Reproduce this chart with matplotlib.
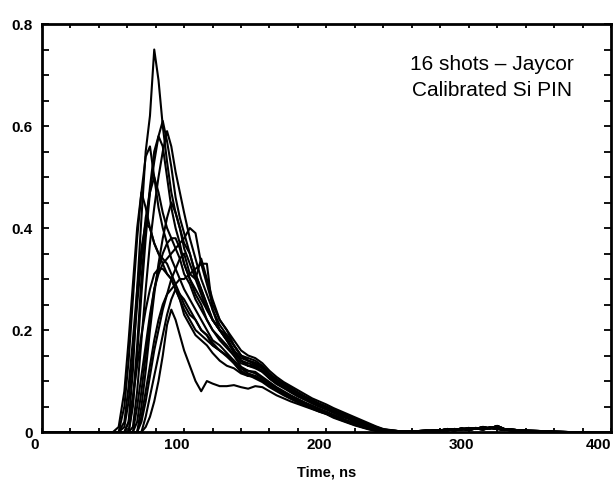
import matplotlib
matplotlib.use("Agg")
import matplotlib.pyplot as plt
from matplotlib.ticker import MultipleLocator
from matplotlib.transforms import ScaledTranslation

# time grid (ns) shared by all 16 shots
t_ns = [0, 50, 54, 58, 61, 64, 67, 70, 73, 76, 79, 82, 85, 88, 91, 94, 97, 100,
        104, 108, 112, 116, 120, 125, 130, 135, 140, 145, 150, 155, 160, 165, 170,
        175, 180, 185, 190, 195, 200, 205, 210, 215, 220, 225, 230, 235, 240]

shot01 = [0, 0, 0, 0, 0.02, 0.12, 0.28, 0.42, 0.55, 0.62, 0.75, 0.69, 0.60, 0.53, 0.47, 0.43, 0.40, 0.36,
          0.33, 0.30, 0.27, 0.24, 0.22, 0.20, 0.18, 0.155, 0.14, 0.13, 0.125, 0.118, 0.105, 0.095, 0.088,
          0.078, 0.07, 0.064, 0.056, 0.05, 0.045, 0.038, 0.032, 0.028, 0.022, 0.016, 0.011, 0.007, 0.003]
shot02 = [0, 0, 0, 0, 0, 0.05, 0.15, 0.27, 0.38, 0.47, 0.53, 0.58, 0.61, 0.57, 0.52, 0.46, 0.42, 0.39,
          0.35, 0.31, 0.28, 0.25, 0.22, 0.20, 0.185, 0.16, 0.145, 0.14, 0.132, 0.125, 0.11, 0.10, 0.09,
          0.082, 0.074, 0.066, 0.06, 0.053, 0.047, 0.04, 0.035, 0.03, 0.024, 0.018, 0.012, 0.008, 0.004]
shot03 = [0, 0, 0, 0, 0, 0.06, 0.17, 0.30, 0.40, 0.48, 0.55, 0.58, 0.56, 0.50, 0.44, 0.40, 0.37, 0.33,
          0.30, 0.27, 0.25, 0.22, 0.20, 0.18, 0.165, 0.15, 0.128, 0.12, 0.118, 0.108, 0.098, 0.088, 0.08,
          0.072, 0.065, 0.058, 0.052, 0.046, 0.04, 0.034, 0.028, 0.022, 0.018, 0.012, 0.008, 0.004, 0.002]
shot04 = [0, 0, 0, 0, 0, 0.01, 0.08, 0.18, 0.28, 0.37, 0.44, 0.50, 0.55, 0.59, 0.56, 0.51, 0.47, 0.43,
          0.38, 0.34, 0.30, 0.27, 0.24, 0.21, 0.19, 0.17, 0.15, 0.14, 0.135, 0.128, 0.112, 0.10, 0.092,
          0.085, 0.076, 0.068, 0.062, 0.055, 0.05, 0.043, 0.037, 0.032, 0.026, 0.02, 0.014, 0.009, 0.005]
shot05 = [0, 0, 0, 0.05, 0.14, 0.26, 0.38, 0.47, 0.54, 0.56, 0.50, 0.44, 0.40, 0.37, 0.34, 0.32, 0.30, 0.28,
          0.26, 0.24, 0.22, 0.20, 0.18, 0.17, 0.155, 0.14, 0.125, 0.115, 0.11, 0.10, 0.092, 0.082, 0.075,
          0.068, 0.06, 0.055, 0.048, 0.042, 0.037, 0.03, 0.025, 0.02, 0.015, 0.01, 0.006, 0.003, 0.001]
shot06 = [0, 0, 0.01, 0.08, 0.18, 0.29, 0.40, 0.47, 0.44, 0.40, 0.37, 0.35, 0.33, 0.31, 0.30, 0.28, 0.27, 0.25,
          0.23, 0.22, 0.20, 0.19, 0.17, 0.16, 0.15, 0.135, 0.12, 0.112, 0.105, 0.098, 0.088, 0.08, 0.072,
          0.065, 0.058, 0.052, 0.046, 0.04, 0.035, 0.028, 0.023, 0.018, 0.013, 0.009, 0.005, 0.002, 0]
shot07 = [0, 0, 0, 0.01, 0.06, 0.15, 0.25, 0.34, 0.42, 0.47, 0.50, 0.47, 0.43, 0.40, 0.38, 0.36, 0.34, 0.31,
          0.29, 0.26, 0.24, 0.22, 0.20, 0.185, 0.17, 0.15, 0.135, 0.13, 0.128, 0.12, 0.105, 0.094, 0.086,
          0.078, 0.07, 0.063, 0.057, 0.05, 0.044, 0.038, 0.031, 0.026, 0.02, 0.014, 0.009, 0.005, 0.002]
shot08 = [0, 0, 0, 0.02, 0.09, 0.18, 0.28, 0.36, 0.41, 0.40, 0.37, 0.35, 0.34, 0.33, 0.31, 0.29, 0.27, 0.26,
          0.24, 0.22, 0.20, 0.19, 0.175, 0.16, 0.148, 0.135, 0.118, 0.11, 0.108, 0.10, 0.09, 0.082, 0.074,
          0.066, 0.06, 0.053, 0.047, 0.041, 0.036, 0.03, 0.024, 0.019, 0.014, 0.01, 0.006, 0.003, 0.001]
shot09 = [0, 0, 0, 0, 0, 0, 0.02, 0.08, 0.15, 0.22, 0.28, 0.31, 0.33, 0.34, 0.35, 0.36, 0.37, 0.38,
          0.40, 0.39, 0.33, 0.29, 0.25, 0.22, 0.20, 0.17, 0.15, 0.145, 0.14, 0.13, 0.115, 0.104, 0.095,
          0.087, 0.078, 0.07, 0.063, 0.056, 0.05, 0.044, 0.038, 0.032, 0.027, 0.021, 0.015, 0.01, 0.005]
shot10 = [0, 0, 0, 0, 0, 0, 0, 0.05, 0.12, 0.20, 0.27, 0.33, 0.38, 0.42, 0.45, 0.43, 0.40, 0.37,
          0.35, 0.31, 0.28, 0.25, 0.22, 0.20, 0.18, 0.16, 0.14, 0.135, 0.13, 0.12, 0.108, 0.097, 0.088,
          0.08, 0.072, 0.065, 0.058, 0.052, 0.046, 0.04, 0.034, 0.028, 0.022, 0.017, 0.011, 0.007, 0.003]
shot11 = [0, 0, 0, 0, 0, 0, 0, 0.03, 0.08, 0.13, 0.18, 0.22, 0.25, 0.27, 0.28, 0.29, 0.30, 0.30,
          0.31, 0.32, 0.33, 0.33, 0.24, 0.20, 0.19, 0.17, 0.15, 0.14, 0.136, 0.126, 0.112, 0.10, 0.092,
          0.084, 0.076, 0.068, 0.062, 0.055, 0.049, 0.042, 0.036, 0.03, 0.024, 0.018, 0.013, 0.008, 0.004]
shot12 = [0, 0, 0, 0, 0.02, 0.07, 0.13, 0.19, 0.24, 0.28, 0.31, 0.32, 0.32, 0.31, 0.30, 0.28, 0.26, 0.24,
          0.22, 0.20, 0.19, 0.18, 0.17, 0.16, 0.15, 0.14, 0.125, 0.12, 0.115, 0.105, 0.095, 0.086, 0.078,
          0.07, 0.063, 0.056, 0.05, 0.044, 0.039, 0.032, 0.027, 0.021, 0.016, 0.011, 0.007, 0.004, 0.001]
shot13 = [0, 0, 0, 0, 0, 0, 0, 0, 0.03, 0.07, 0.11, 0.15, 0.19, 0.23, 0.26, 0.28, 0.26, 0.23,
          0.21, 0.19, 0.18, 0.17, 0.155, 0.14, 0.13, 0.125, 0.115, 0.11, 0.11, 0.102, 0.092, 0.084, 0.076,
          0.068, 0.062, 0.055, 0.049, 0.043, 0.038, 0.032, 0.026, 0.021, 0.016, 0.011, 0.007, 0.004, 0.001]
shot14 = [0, 0, 0, 0, 0, 0, 0, 0, 0.01, 0.03, 0.06, 0.10, 0.15, 0.21, 0.24, 0.22, 0.19, 0.16,
          0.13, 0.10, 0.08, 0.10, 0.095, 0.09, 0.09, 0.092, 0.088, 0.085, 0.09, 0.088, 0.08, 0.072, 0.066,
          0.06, 0.055, 0.05, 0.045, 0.04, 0.036, 0.03, 0.025, 0.02, 0.015, 0.011, 0.007, 0.004, 0.001]
shot15 = [0, 0, 0, 0, 0, 0, 0.05, 0.11, 0.17, 0.23, 0.28, 0.32, 0.35, 0.37, 0.38, 0.38, 0.36, 0.33,
          0.30, 0.28, 0.26, 0.24, 0.22, 0.20, 0.18, 0.16, 0.14, 0.13, 0.128, 0.118, 0.106, 0.096, 0.088,
          0.08, 0.072, 0.065, 0.058, 0.052, 0.046, 0.04, 0.034, 0.028, 0.022, 0.016, 0.011, 0.006, 0.003]
shot16 = [0, 0, 0, 0, 0, 0, 0, 0.02, 0.06, 0.11, 0.16, 0.20, 0.24, 0.27, 0.30, 0.32, 0.34, 0.35,
          0.31, 0.30, 0.34, 0.30, 0.26, 0.22, 0.20, 0.18, 0.16, 0.15, 0.145, 0.135, 0.12, 0.108, 0.098,
          0.09, 0.082, 0.074, 0.066, 0.06, 0.054, 0.047, 0.041, 0.035, 0.029, 0.023, 0.017, 0.011, 0.006]

# late tail (after 240 ns), three slightly different versions
tail_t = [250, 260, 270, 280, 285, 290, 295, 300, 305, 310, 315, 320, 325, 330, 340, 350, 360, 370, 400]
tail_a = [0.002, 0.001, 0.002, 0.003, 0.006, 0.004, 0.007, 0.005, 0.008, 0.006, 0.009, 0.007, 0.004, 0.005, 0.002, 0.001, 0, 0, 0]
tail_b = [0.001, 0.002, 0.001, 0.004, 0.003, 0.006, 0.005, 0.008, 0.006, 0.010, 0.007, 0.012, 0.006, 0.004, 0.003, 0.002, 0.001, 0, 0]
tail_c = [0.002, 0.001, 0.003, 0.002, 0.005, 0.003, 0.006, 0.004, 0.007, 0.005, 0.008, 0.006, 0.005, 0.003, 0.002, 0, 0, 0, 0]

shots = [shot01, shot02, shot03, shot04, shot05, shot06, shot07, shot08,
         shot09, shot10, shot11, shot12, shot13, shot14, shot15, shot16]
tails = [tail_a, tail_b, tail_c]

plt.rcParams['font.family'] = ['Liberation Sans', 'DejaVu Sans']

fig = plt.figure(figsize=(6.15, 4.86), dpi=100)
ax = fig.add_axes([0.068, 0.111, 0.9255, 0.8396])

i = 0
for s in shots:
    tail = tails[i % 3]
    ax.plot(t_ns + tail_t, s + tail, color='black', linewidth=1.5)
    i += 1

ax.set_xlim(0, 400)
ax.set_ylim(0, 0.8)

ax.xaxis.set_minor_locator(MultipleLocator(20))
ax.yaxis.set_minor_locator(MultipleLocator(0.05))
ax.set_xticks([0, 100, 200, 300, 400])
ax.set_xticklabels(['0', '100', '200', '300', '400'])
ax.set_yticks([0, 0.2, 0.4, 0.6, 0.8])
ax.set_yticklabels(['0', '0.2', '0.4', '0.6', '0.8'])

ax.tick_params(axis='both', which='both', direction='in', top=True, right=True, width=1.3)
ax.tick_params(axis='x', which='both', length=3, pad=4)
ax.tick_params(axis='y', which='both', length=5, pad=6.5)
# x labels sit a little left of their ticks in the original
shift = ScaledTranslation(-5 / 72, 0, fig.dpi_scale_trans)
xlabs = ax.get_xticklabels()
for lab in xlabs[:-1]:
    lab.set_transform(lab.get_transform() + shift)
# last one is flush with the right edge
xlabs[-1].set_horizontalalignment('right')
for lab in xlabs + ax.get_yticklabels():
    lab.set_fontweight('bold')
    lab.set_fontsize(11)

for sp in ax.spines.values():
    sp.set_linewidth(2)

ax.set_xlabel('Time, ns', fontsize=10.5, fontweight='bold', labelpad=10)

ax.text(0.791, 0.9, '16 shots – Jaycor', transform=ax.transAxes,
        ha='center', va='center', fontsize=15)
ax.text(0.791, 0.836, 'Calibrated Si PIN', transform=ax.transAxes,
        ha='center', va='center', fontsize=15)

fig.savefig('out.png', dpi=100)
